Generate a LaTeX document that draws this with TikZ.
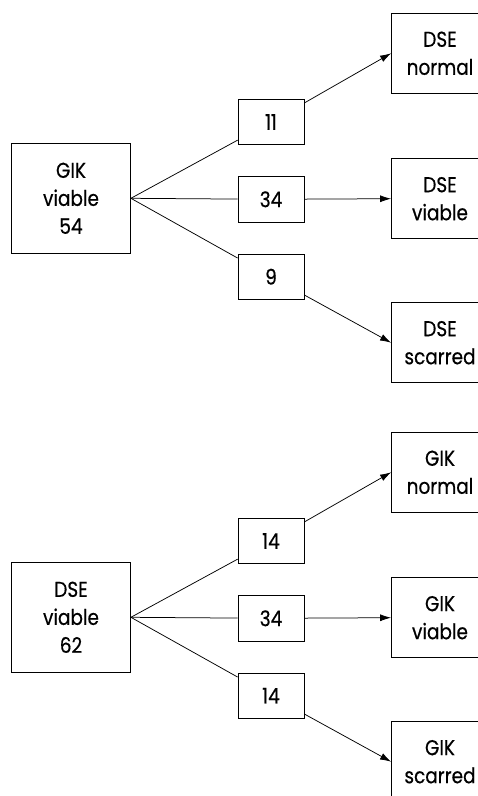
\documentclass[tikz,border=0pt]{standalone}
\usepackage{fontspec}
\setmainfont{Poppins}[FakeStretch=0.86, FakeBold=0.5]
\usetikzlibrary{arrows.meta}
\begin{document}
\begin{tikzpicture}[x=1pt,y=-1pt,
  every node/.style={draw, line width=0.8pt, fill=white, align=center,
    font=\fontsize{21.5}{28}\selectfont, inner sep=0pt},
  srcbox/.style={minimum width=119pt, minimum height=110pt},
  numbox/.style={minimum width=66pt, minimum height=45.5pt},
  outbox/.style={minimum width=97pt, minimum height=80pt},
  link/.style={line width=0.75pt},
  arrowlink/.style={link, -{Latex[length=11pt,width=7pt]}}]
\useasboundingbox (0,0) rectangle (478,796);

% upper tree: GIK viable
\node[srcbox] (gik) at (71,198.3) {GIK\\viable\\54};
\node[numbox] (a1) at (271,122) {11};
\node[numbox] (a2) at (271,199.3) {34};
\node[numbox] (a3) at (271,276.7) {9};
\node[outbox] (dn) at (440,53.3) {DSE\\normal};
\node[outbox] (dv) at (440,198.7) {DSE\\viable};
\node[outbox] (ds) at (440,342.7) {DSE\\scarred};
\draw[link] (gik.east) -- (a1);
\draw[link] (gik.east) -- (a2);
\draw[link] (gik.east) -- (a3);
\draw[arrowlink] (a1) -- (dn.west);
\draw[arrowlink] (a2) -- (dv.west);
\draw[arrowlink] (a3) -- (ds.west);

% lower tree: DSE viable
\node[srcbox] (dse) at (71,617.3) {DSE\\viable\\62};
\node[numbox] (b1) at (271,541) {14};
\node[numbox] (b2) at (271,618.3) {34};
\node[numbox] (b3) at (271,695.7) {14};
\node[outbox] (gn) at (440,472.3) {GIK\\normal};
\node[outbox] (gv) at (440,617.7) {GIK\\viable};
\node[outbox] (gs) at (440,761.7) {GIK\\scarred};
\draw[link] (dse.east) -- (b1);
\draw[link] (dse.east) -- (b2);
\draw[link] (dse.east) -- (b3);
\draw[arrowlink] (b1) -- (gn.west);
\draw[arrowlink] (b2) -- (gv.west);
\draw[arrowlink] (b3) -- (gs.west);
\end{tikzpicture}
\end{document}
